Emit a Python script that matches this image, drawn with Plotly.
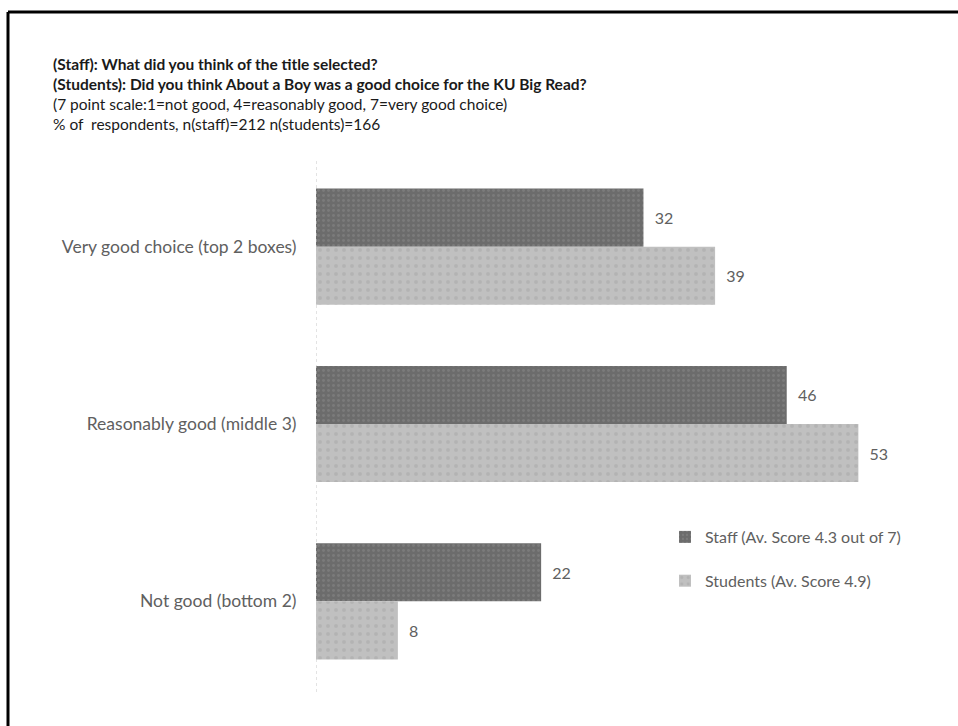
import plotly.graph_objects as go

# Survey results, % of respondents
categories = ["Very good choice (top 2 boxes)", "Reasonably good (middle 3)", "Not good (bottom 2)"]
staff_pct = [32, 46, 22]
student_pct = [39, 53, 8]
staff_name = "Staff (Av. Score 4.3 out of 7)"
student_name = "Students (Av. Score 4.9)"

title_lines = [
    ("(Staff): What did you think of the title selected?", True),
    ("(Students): Did you think About a Boy was a good choice for the KU Big Read?", True),
    ("(7 point scale:1=not good, 4=reasonably good, 7=very good choice)", False),
    ("% of  respondents, n(staff)=212 n(students)=166", False),
]

W, H = 958, 726
L, R, T, B = 316, 28, 158, 36
FONT = "Lato, Calibri, Carlito, sans-serif"
GREY_TEXT = "#606060"


def px(x):
    return (x - L) / (W - L - R)


def py(y):
    return (H - B - y) / (H - T - B)


fig = go.Figure()
fig.add_trace(go.Bar(
    y=categories, x=staff_pct, name=staff_name, orientation="h",
    text=staff_pct, texttemplate="  %{text}", textposition="outside",
    textfont=dict(size=16, color=GREY_TEXT, family=FONT),
    marker=dict(color="#707070", line=dict(width=0),
                pattern=dict(shape=".", fgcolor="#8a8a8a", bgcolor="#6c6c6c", size=5, solidity=0.25)),
    cliponaxis=False, legendgroup="a",
))
fig.add_trace(go.Bar(
    y=categories, x=student_pct, name=student_name, orientation="h",
    text=student_pct, texttemplate="  %{text}", textposition="outside",
    textfont=dict(size=16, color=GREY_TEXT, family=FONT),
    marker=dict(color="#bdbdbd", line=dict(width=0),
                pattern=dict(shape=".", fgcolor="#a6a6a6", bgcolor="#c0c0c0", size=8, solidity=0.2)),
    cliponaxis=False, legendgroup="b",
))

fig.update_layout(
    width=W, height=H,
    margin=dict(l=L, r=R, t=T, b=B, pad=0),
    paper_bgcolor="white", plot_bgcolor="white",
    barmode="group", bargap=0.345, bargroupgap=0,
    font=dict(family=FONT, color=GREY_TEXT, size=16),
    showlegend=True,
    legend=dict(x=px(665), y=py(520), xanchor="left", yanchor="top",
                font=dict(size=16, color=GREY_TEXT, family=FONT),
                tracegroupgap=20, bgcolor="rgba(0,0,0,0)", itemwidth=30),
    xaxis=dict(range=[0, 60], showgrid=False, zeroline=False, showticklabels=False,
               showline=False, ticks=""),
    yaxis=dict(autorange="reversed", showgrid=False, zeroline=False, showline=False,
               ticks="outside", ticklen=15, tickcolor="rgba(0,0,0,0)",
               tickfont=dict(size=17.5, color=GREY_TEXT, family=FONT)),
)

# dotted category axis line
fig.add_shape(type="line", xref="x", yref="paper", x0=0, x1=0, y0=py(692), y1=py(160),
              line=dict(color="#c8c8c8", width=1, dash="dot"))

# frame along the top and left edges
fig.add_shape(type="line", xref="paper", yref="paper", x0=px(8), x1=px(W + 5), y0=py(12), y1=py(12),
              line=dict(color="black", width=3))
fig.add_shape(type="line", xref="paper", yref="paper", x0=px(8), x1=px(8), y0=py(12), y1=py(H + 5),
              line=dict(color="black", width=3))

for i, (line, bold) in enumerate(title_lines):
    fig.add_annotation(
        x=px(51), y=py(64 + 20 * i), xref="paper", yref="paper",
        xanchor="left", yanchor="middle", showarrow=False,
        text=f"<b>{line}</b>" if bold else line,
        font=dict(size=15.5, color="#1a1a1a", family=FONT),
    )

fig.write_html("out.html")
